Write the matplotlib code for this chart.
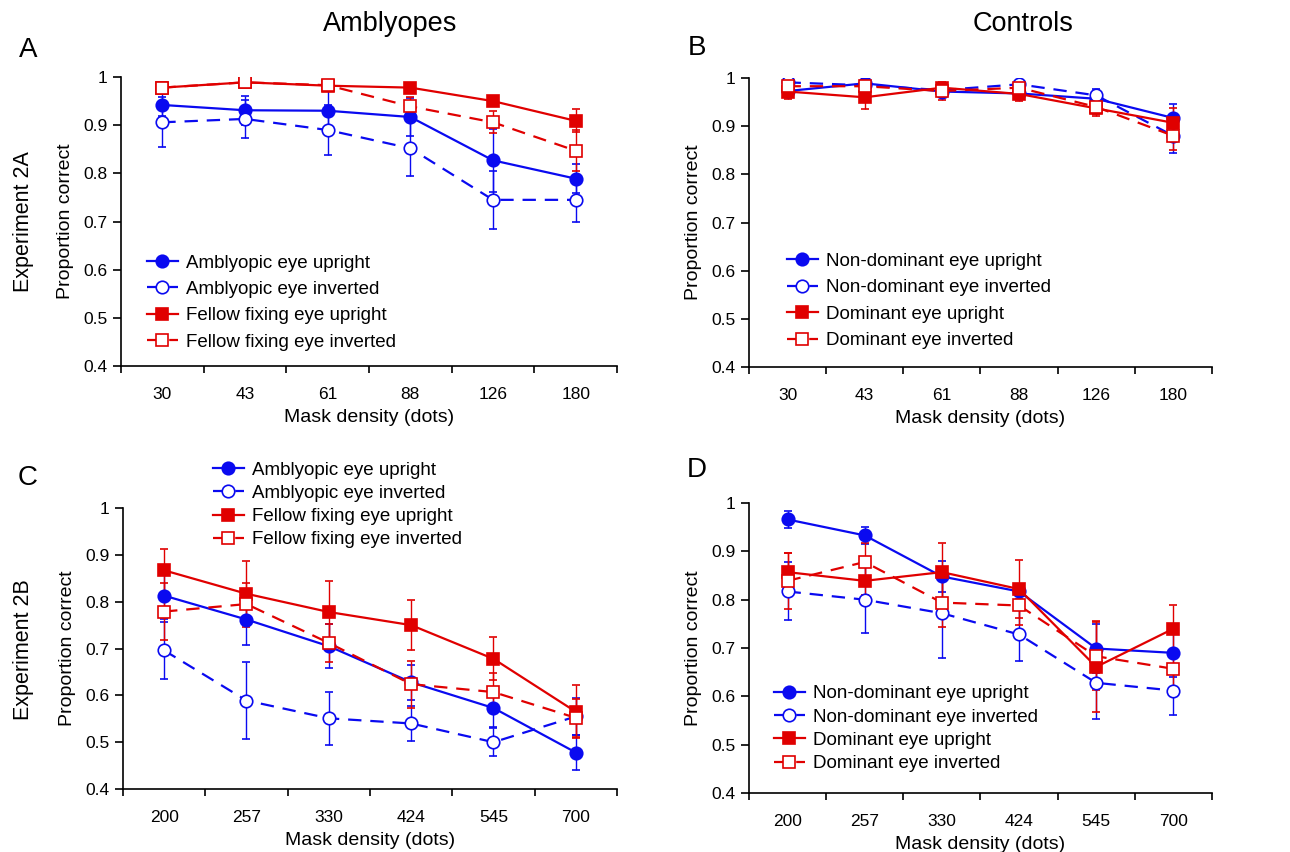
import matplotlib.pyplot as plt
from matplotlib.lines import Line2D
from matplotlib.ticker import FixedLocator, FuncFormatter

plt.rcParams['font.family'] = ['Liberation Sans', 'DejaVu Sans']

BLUE = '#0a0af0'
RED = '#e00000'
DASH = (0, (6, 4))

# ---- data ----
dens_2a = ['30', '43', '61', '88', '126', '180']
dens_2b = ['200', '257', '330', '424', '545', '700']

labels_amb = ['Amblyopic eye upright', 'Amblyopic eye inverted',
              'Fellow fixing eye upright', 'Fellow fixing eye inverted']
labels_ctl = ['Non-dominant eye upright', 'Non-dominant eye inverted',
              'Dominant eye upright', 'Dominant eye inverted']

# Panel A (amblyopes, experiment 2A)
a_amb_up = [0.942, 0.931, 0.930, 0.917, 0.827, 0.789]
a_amb_up_err = [0.022, 0.03, 0.04, 0.04, 0.065, 0.03]
a_amb_inv = [0.906, 0.913, 0.890, 0.852, 0.745, 0.745]
a_amb_inv_err = [0.052, 0.04, 0.052, 0.057, 0.06, 0.045]
a_fel_up = [0.978, 0.989, 0.982, 0.978, 0.950, 0.909]
a_fel_up_err = [0.005, 0.005, 0.006, 0.006, 0.01, 0.024]
a_fel_inv = [0.978, 0.989, 0.983, 0.939, 0.906, 0.847]
a_fel_inv_err = [0.005, 0.005, 0.006, 0.02, 0.023, 0.042]

# Panel B (controls, experiment 2A)
b_nd_up = [0.973, 0.989, 0.972, 0.968, 0.957, 0.917]
b_nd_up_err = [0.008, 0.005, 0.006, 0.01, 0.015, 0.03]
b_nd_inv = [0.991, 0.985, 0.975, 0.987, 0.964, 0.880]
b_nd_inv_err = [0.005, 0.006, 0.006, 0.005, 0.014, 0.035]
b_d_up = [0.972, 0.960, 0.980, 0.967, 0.937, 0.907]
b_d_up_err = [0.015, 0.025, 0.008, 0.015, 0.015, 0.03]
b_d_inv = [0.983, 0.983, 0.973, 0.980, 0.940, 0.880]
b_d_inv_err = [0.007, 0.007, 0.018, 0.008, 0.015, 0.03]

# Panel C (amblyopes, experiment 2B)
c_amb_up = [0.813, 0.762, 0.705, 0.628, 0.573, 0.478]
c_amb_up_err = [0.05, 0.054, 0.047, 0.037, 0.04, 0.037]
c_amb_inv = [0.696, 0.589, 0.551, 0.540, 0.500, 0.555]
c_amb_inv_err = [0.06, 0.082, 0.057, 0.038, 0.03, 0.04]
c_fel_up = [0.867, 0.817, 0.778, 0.750, 0.678, 0.565]
c_fel_up_err = [0.046, 0.07, 0.067, 0.053, 0.046, 0.057]
c_fel_inv = [0.779, 0.795, 0.712, 0.624, 0.607, 0.552]
c_fel_inv_err = [0.06, 0.045, 0.04, 0.05, 0.04, 0.04]

# Panel D (controls, experiment 2B)
d_nd_up = [0.966, 0.933, 0.848, 0.817, 0.699, 0.690]
d_nd_up_err = [0.017, 0.018, 0.033, 0.015, 0.05, 0.05]
d_nd_inv = [0.817, 0.800, 0.772, 0.728, 0.628, 0.612]
d_nd_inv_err = [0.06, 0.068, 0.093, 0.055, 0.075, 0.051]
d_d_up = [0.857, 0.839, 0.857, 0.822, 0.661, 0.740]
d_d_up_err = [0.04, 0.03, 0.06, 0.06, 0.094, 0.048]
d_d_inv = [0.839, 0.878, 0.794, 0.788, 0.683, 0.657]
d_d_inv_err = [0.058, 0.04, 0.05, 0.04, 0.07, 0.04]

STYLES = [(BLUE, 'o', True, '-'), (BLUE, 'o', False, DASH),
          (RED, 's', True, '-'), (RED, 's', False, DASH)]


def draw_panel(ax, cats, series, labels, leg_anchor, leg_space):
    x = list(range(len(cats)))
    handles = []
    for (vals, err), (col, mk, filled, ls), lab in zip(series, STYLES, labels):
        ms = 9 if mk == 'o' else 8.5
        fc = col if filled else 'white'
        ax.errorbar(x, vals, yerr=err, color=col, ecolor=col, elinewidth=1,
                    capsize=3, capthick=1, linestyle=ls, linewidth=1.6,
                    marker=mk, markersize=ms, markerfacecolor=fc,
                    markeredgecolor=col, markeredgewidth=1.2)
        handles.append(Line2D([], [], color=col, linestyle=ls, linewidth=1.6,
                              marker=mk, markersize=ms, markerfacecolor=fc,
                              markeredgecolor=col, markeredgewidth=1.2, label=lab))
    ax.set_xlim(-0.5, len(cats) - 0.5)
    ax.set_ylim(0.4, 1.0)
    ax.xaxis.set_major_locator(FixedLocator([i - 0.5 for i in range(len(cats) + 1)]))
    ax.xaxis.set_major_formatter(FuncFormatter(lambda v, p: ''))
    ax.xaxis.set_minor_locator(FixedLocator(x))
    ax.set_xticklabels(cats, minor=True)
    ax.tick_params(axis='x', which='major', direction='out', length=5, width=1.2)
    ax.tick_params(axis='x', which='minor', length=0, pad=15, labelsize=12.5)
    ax.set_yticks([0.4, 0.5, 0.6, 0.7, 0.8, 0.9, 1.0])
    ax.yaxis.set_major_formatter(FuncFormatter(lambda v, p: '1' if v > 0.99 else '%.1f' % v))
    ax.tick_params(axis='y', direction='out', length=6, width=1.2, labelsize=12.5)
    for s in ['top', 'right']:
        ax.spines[s].set_visible(False)
    for s in ['left', 'bottom']:
        ax.spines[s].set_linewidth(1.2)
    ax.set_xlabel('Mask density (dots)', fontsize=14, labelpad=5)
    ax.set_ylabel('Proportion correct', fontsize=14, labelpad=7)
    ax.legend(handles=handles, loc='upper left', bbox_to_anchor=leg_anchor,
              frameon=False, borderaxespad=0, borderpad=0, handlelength=1.65,
              handletextpad=0.45, labelspacing=leg_space, fontsize=13.5)


fig = plt.figure(figsize=(12.9, 8.52), dpi=100)
axA = fig.add_axes([0.0938, 0.5704, 0.3845, 0.3392])
axB = fig.add_axes([0.5806, 0.5692, 0.3589, 0.3392])
axC = fig.add_axes([0.0953, 0.0739, 0.3830, 0.3298])
axD = fig.add_axes([0.5806, 0.0692, 0.3589, 0.3404])

draw_panel(axA, dens_2a,
           [(a_amb_up, a_amb_up_err), (a_amb_inv, a_amb_inv_err),
            (a_fel_up, a_fel_up_err), (a_fel_inv, a_fel_inv_err)],
           labels_amb, (0.052, 0.386), 0.49)
draw_panel(axB, dens_2a,
           [(b_nd_up, b_nd_up_err), (b_nd_inv, b_nd_inv_err),
            (b_d_up, b_d_up_err), (b_d_inv, b_d_inv_err)],
           labels_ctl, (0.082, 0.396), 0.50)
draw_panel(axC, dens_2b,
           [(c_amb_up, c_amb_up_err), (c_amb_inv, c_amb_inv_err),
            (c_fel_up, c_fel_up_err), (c_fel_inv, c_fel_inv_err)],
           labels_amb, (0.182, 1.166), 0.33)
draw_panel(axD, dens_2b,
           [(d_nd_up, d_nd_up_err), (d_nd_inv, d_nd_inv_err),
            (d_d_up, d_d_up_err), (d_d_inv, d_d_inv_err)],
           labels_ctl, (0.054, 0.372), 0.33)

fig.text(390 / 1290, 1 - 24 / 852, 'Amblyopes', fontsize=19.5, ha='center', va='center')
fig.text(1023 / 1290, 1 - 24 / 852, 'Controls', fontsize=19.5, ha='center', va='center')
for lab, (px, py) in zip('ABCD', [(28, 50), (697, 48), (28, 478), (697, 470)]):
    fig.text(px / 1290, 1 - py / 852, lab, fontsize=20, ha='center', va='center')
fig.text(23 / 1290, 1 - 222 / 852, 'Experiment 2A', fontsize=15.5, rotation=90,
         ha='center', va='center')
fig.text(23 / 1290, 1 - 650 / 852, 'Experiment 2B', fontsize=15.5, rotation=90,
         ha='center', va='center')

fig.savefig('out.png', dpi=100)
